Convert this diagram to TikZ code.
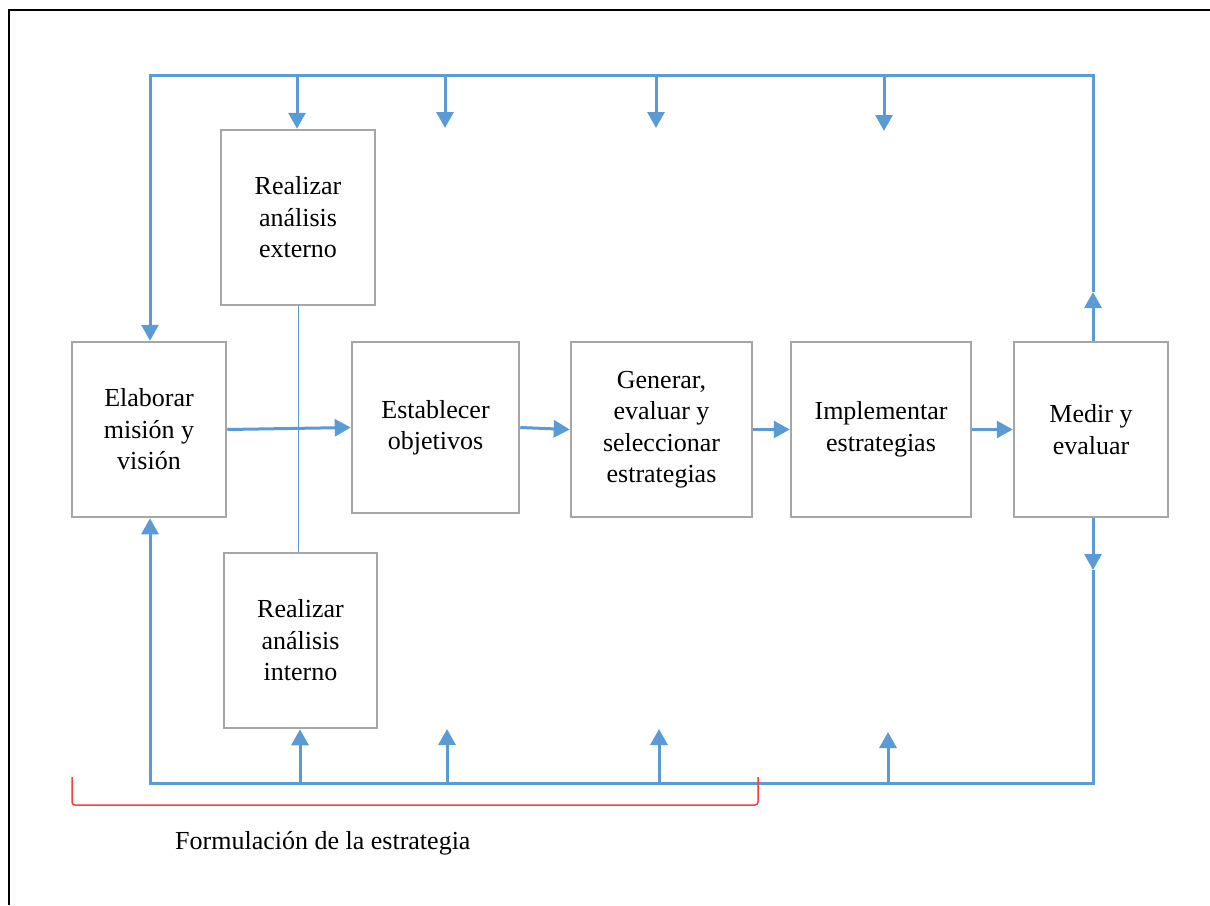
\documentclass[tikz,border=0pt]{standalone}
\usepackage{fontspec}
\setmainfont{Liberation Serif}
\usetikzlibrary{arrows.meta}
\definecolor{flowblue}{HTML}{5B9BD5}
\definecolor{boxgray}{HTML}{A6A6A6}
\definecolor{bracketred}{HTML}{FF3B3B}

\begin{document}
\begin{tikzpicture}[x=1pt,y=-1pt,
  txt/.style={font=\fontsize{26}{31.5}\selectfont},
  stepbox/.style={draw=boxgray, line width=2.5pt, align=center, inner sep=0pt, txt},
  flow/.style={draw=flowblue, line width=3pt},
  tip/.style={-{Triangle[width=17pt,length=16pt]}},
]
\useasboundingbox (0,0) rectangle (1210,905);

% outer frame
\draw[black, line width=2pt] (9,905) -- (9,10) -- (1210,10);

% process boxes
\node[stepbox, minimum width=154pt, minimum height=175pt] (elab)   at (149,429.5)   {Elaborar\\misión y\\visión};
\node[stepbox, minimum width=154pt, minimum height=175pt] (extern) at (298,217.5)   {Realizar\\análisis\\externo};
\node[stepbox, minimum width=153pt, minimum height=175pt] (intern) at (300.5,640.5) {Realizar\\análisis\\interno};
\node[stepbox, minimum width=167pt, minimum height=171pt] (estab)  at (435.5,427.5) {Establecer\\objetivos};
\node[stepbox, minimum width=181pt, minimum height=175pt] (gener)  at (661.5,429.5) {Generar,\\evaluar y\\seleccionar\\estrategias};
\node[stepbox, minimum width=180pt, minimum height=175pt] (impl)   at (881,429.5)   {Implementar\\estrategias};
\node[stepbox, minimum width=154pt, minimum height=175pt] (medir)  at (1091,429.5)  {Medir y\\evaluar};

% loop corners and mid-arrow points
\coordinate (ltop) at (150,75);
\coordinate (rtop) at (1093,75);
\coordinate (lbot) at (150,783);
\coordinate (rbot) at (1093,783);
\coordinate (rup)   at (1093,292);
\coordinate (rdown) at (1093,570);

% feedback loop
\draw[flow,tip] (medir.north -| rtop) -- (rup);
\draw[flow,tip] (rup) -- (rtop) -- (ltop) -- (elab.north -| ltop);
\draw[flow,tip] (medir.south -| rbot) -- (rdown);
\draw[flow,tip] (rdown) -- (rbot) -- (lbot) -- (elab.south -| lbot);

% drops from the top line
\coordinate (t1) at (297,75);
\coordinate (t2) at (445,75);   \coordinate (t2e) at (445,128);
\coordinate (t3) at (656,75);   \coordinate (t3e) at (656,128);
\coordinate (t4) at (884,75);   \coordinate (t4e) at (884,131);
\draw[flow,tip] (t1) -- (t1 |- extern.north);
\draw[flow,tip] (t2) -- (t2e);
\draw[flow,tip] (t3) -- (t3e);
\draw[flow,tip] (t4) -- (t4e);

% rises from the bottom line
\coordinate (b1) at (300,783);
\coordinate (b2) at (447,783);  \coordinate (b2e) at (447,729);
\coordinate (b3) at (659,783);  \coordinate (b3e) at (659,729);
\coordinate (b4) at (888,783);  \coordinate (b4e) at (888,732);
\draw[flow,tip] (b1) -- (b1 |- intern.south);
\draw[flow,tip] (b2) -- (b2e);
\draw[flow,tip] (b3) -- (b3e);
\draw[flow,tip] (b4) -- (b4e);

% main sequence
\draw[flow,tip] (elab.east) -- (estab.west);
\draw[flow,tip] (estab.east) -- (gener.west);
\draw[flow,tip] (gener.east) -- (impl.west);
\draw[flow,tip] (impl.east) -- (medir.west);

% link between the two analyses
\draw[flowblue, line width=1pt] (extern.south) -- (extern.south |- intern.north);

% bracket over the formulation phase
\coordinate (brl) at (72,777);
\coordinate (brr) at (758,777);
\draw[bracketred, line width=1.5pt, rounded corners=3pt]
  (brl) -- (72,805) -- (758,805) -- (brr);
\node[txt, anchor=base west, inner sep=0pt] (formul) at (175,849) {Formulación de la estrategia};
\end{tikzpicture}
\end{document}
